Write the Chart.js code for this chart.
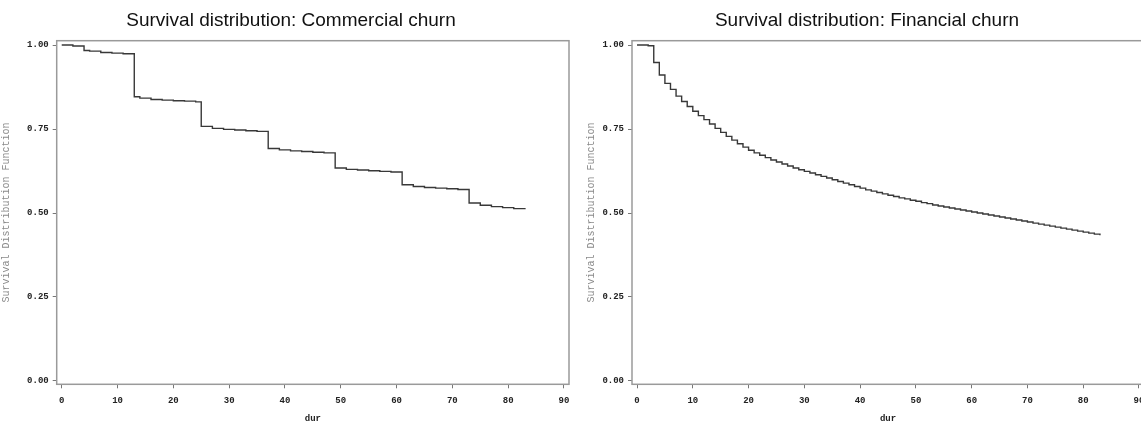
<!DOCTYPE html>
<html>
<head>
<meta charset="utf-8">
<script src="https://cdn.jsdelivr.net/npm/chart.js@4/dist/chart.umd.min.js"></script>
<style>
  body { margin: 0; background: #fff; overflow: hidden; width: 1141px; height: 425px; position: relative; }
  canvas { position: absolute; top: 0; }
  #commercial { left: 0; }
  #financial { left: 570px; }
</style>
</head>
<body>
<canvas id="commercial" width="582" height="425"></canvas>
<canvas id="financial" width="594" height="425"></canvas>
<script>
// Commercial churn: step dates and survival after each step
const comDur = [0, 2, 4, 5, 7, 9, 11, 13, 14, 16, 18, 20, 22, 24, 25, 27, 29, 31, 33, 35, 37, 39, 41, 43, 45, 47, 49, 51, 53, 55, 57, 59, 61, 63, 65, 67, 69, 71, 73, 75, 77, 79, 81, 83];
const comSurv = [1.000, 0.997, 0.984, 0.982, 0.978, 0.976, 0.974, 0.846, 0.842, 0.838, 0.836, 0.834, 0.833, 0.831,
    0.758, 0.752, 0.749, 0.747, 0.745, 0.743, 0.692, 0.688, 0.685, 0.683, 0.681, 0.679,
    0.634, 0.630, 0.628, 0.626, 0.624, 0.622, 0.584, 0.579, 0.576, 0.574, 0.572, 0.570,
    0.530, 0.523, 0.519, 0.516, 0.513, 0.511];

// Financial churn: monthly survival
const finDur = [0, 1, 2, 3, 4, 5, 6, 7, 8, 9, 10, 11, 12, 13, 14, 15, 16, 17, 18, 19, 20,
    21, 22, 23, 24, 25, 26, 27, 28, 29, 30, 31, 32, 33, 34, 35, 36, 37, 38, 39, 40,
    41, 42, 43, 44, 45, 46, 47, 48, 49, 50, 51, 52, 53, 54, 55, 56, 57, 58, 59, 60,
    61, 62, 63, 64, 65, 66, 67, 68, 69, 70, 71, 72, 73, 74, 75, 76, 77, 78, 79, 80, 81, 82, 83];
const finSurv = [1.000, 1.000, 0.998, 0.948, 0.911, 0.886, 0.868, 0.848, 0.832, 0.817, 0.803,
    0.790, 0.778, 0.765, 0.752, 0.740, 0.728, 0.717, 0.706, 0.696, 0.687,
    0.679, 0.672, 0.665, 0.658, 0.652, 0.646, 0.640, 0.634, 0.629, 0.624,
    0.619, 0.614, 0.609, 0.604, 0.599, 0.594, 0.589, 0.584, 0.579, 0.574,
    0.569, 0.565, 0.561, 0.557, 0.553, 0.549, 0.545, 0.542, 0.538, 0.535,
    0.531, 0.528, 0.524, 0.521, 0.518, 0.515, 0.512, 0.509, 0.506, 0.503,
    0.500, 0.497, 0.494, 0.491, 0.488, 0.485, 0.482, 0.479, 0.476, 0.473,
    0.470, 0.467, 0.464, 0.461, 0.458, 0.455, 0.452, 0.449, 0.446, 0.443, 0.440, 0.437, 0.434];

const xTicks = [0, 10, 20, 30, 40, 50, 60, 70, 80, 90];
const yTicks = [0, 0.25, 0.5, 0.75, 1];

// box around the plot area, like the SAS frame
const frame = {
    id: 'frame',
    beforeDatasetsDraw(chart) {
        const { ctx, chartArea: a } = chart;
        ctx.save();
        ctx.strokeStyle = '#9a9a9a';
        ctx.lineWidth = 1.5;
        ctx.strokeRect(a.left, a.top, a.right - a.left, a.bottom - a.top);
        ctx.restore();
    }
};

const tickFont = { family: 'Liberation Mono', size: 9, weight: 'bold' };

function makeChart(id, title, xs, ys, yWidth, yTitlePad, rightPad) {
    const ctx = document.getElementById(id).getContext('2d');
    return new Chart(ctx, {
        type: 'line',
        data: {
            datasets: [{
                data: xs.map((x, i) => ({ x: x, y: ys[i] })),
                stepped: 'before',
                borderColor: '#383838',
                borderWidth: 1.4,
                pointRadius: 0,
                fill: false
            }]
        },
        options: {
            responsive: false,
            animation: false,
            devicePixelRatio: 1,
            layout: { padding: 0 },
            plugins: {
                legend: { display: false },
                tooltip: { enabled: false },
                title: {
                    display: true,
                    text: title,
                    color: '#111',
                    font: { family: 'Liberation Sans', size: 19, weight: 'normal', lineHeight: 1.2 },
                    padding: { top: 9, bottom: 8.9 }
                }
            },
            scales: {
                x: {
                    type: 'linear',
                    min: -0.9,
                    max: 90.9,
                    afterBuildTicks: s => { s.ticks = xTicks.map(v => ({ value: v })); },
                    afterFit: s => { s.height = 40.7; },
                    grid: { display: true, drawOnChartArea: false, tickLength: 4, color: '#777' },
                    border: { display: false },
                    ticks: { font: tickFont, color: '#222', padding: 7, maxRotation: 0 },
                    title: {
                        display: true,
                        text: 'dur',
                        color: '#222',
                        font: { family: 'Liberation Mono', size: 9, weight: 'bold' },
                        padding: { top: 0, bottom: 0.8 }
                    }
                },
                y: {
                    type: 'linear',
                    min: -0.01,
                    max: 1.013,
                    afterBuildTicks: s => { s.ticks = yTicks.map(v => ({ value: v })); },
                    afterFit: s => { s.width = yWidth; },
                    grid: { display: true, drawOnChartArea: false, tickLength: 4, color: '#777' },
                    border: { display: false },
                    ticks: { font: tickFont, color: '#222', padding: 4, callback: v => v.toFixed(2) },
                    title: {
                        display: true,
                        text: 'Survival Distribution Function',
                        color: '#8a8a8a',
                        font: { family: 'Liberation Mono', size: 10 },
                        padding: { top: yTitlePad, bottom: 0 }
                    }
                },
                // empty right axis only to hold the space right of the frame
                pad: {
                    type: 'linear',
                    position: 'right',
                    display: true,
                    afterFit: s => { s.width = rightPad; },
                    grid: { display: false },
                    border: { display: false },
                    ticks: { display: false }
                }
            }
        },
        plugins: [frame]
    });
}

makeChart('commercial', 'Survival distribution: Commercial churn', comDur, comSurv, 56.7, 0, 13);
makeChart('financial', 'Survival distribution: Financial churn', finDur, finSurv, 62, 15.5, 20);
</script>
</body>
</html>
